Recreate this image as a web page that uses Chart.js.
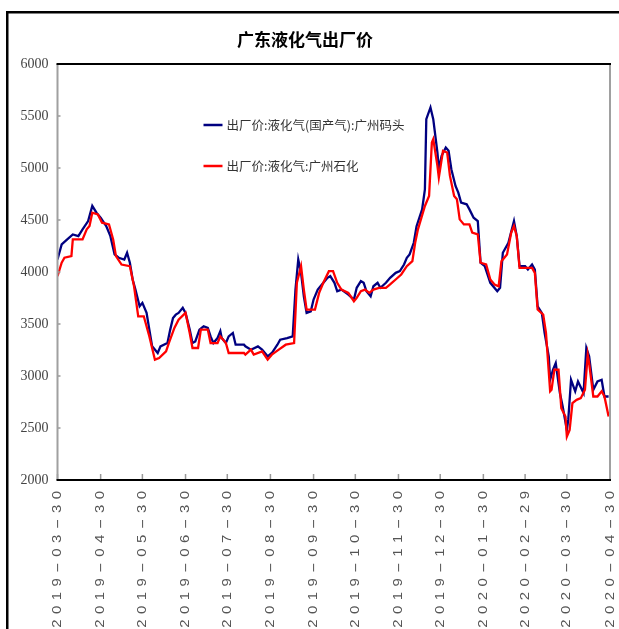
<!DOCTYPE html>
<html>
<head>
<meta charset="utf-8">
<script src="https://cdn.jsdelivr.net/npm/chart.js@4.4.1/dist/chart.umd.min.js"></script>
<style>
  html, body { margin: 0; padding: 0; background: #fff; }
  #wrap { position: relative; width: 619px; height: 629px; }
</style>
</head>
<body>
<div id="wrap"><canvas id="myChart"></canvas></div>
<script>
var chartTitle = "广东液化气出厂价";
var seriesNames = ["出厂价:液化气(国产气):广州码头", "出厂价:液化气:广州石化"];
var seriesColors = ["#000080", "#ff0000"];

var tickDates = ["2019-03-30","2019-04-30","2019-05-30","2019-06-30","2019-07-30","2019-08-30","2019-09-30",
  "2019-10-30","2019-11-30","2019-12-30","2020-01-30","2020-02-29","2020-03-30","2020-04-30"];
var yTicks = [2000, 2500, 3000, 3500, 4000, 4500, 5000, 5500, 6000];

// 广州码头
var blueDates = ["2019-03-30","2019-04-02","2019-04-06","2019-04-10","2019-04-14","2019-04-17","2019-04-21","2019-04-24","2019-04-27","2019-04-30",
  "2019-05-04","2019-05-07","2019-05-10","2019-05-13","2019-05-17","2019-05-19","2019-05-21","2019-05-23","2019-05-25","2019-05-28","2019-05-30",
  "2019-06-02","2019-06-04","2019-06-06","2019-06-10","2019-06-12","2019-06-17","2019-06-19","2019-06-21","2019-06-23","2019-06-25","2019-06-28","2019-06-30",
  "2019-07-03","2019-07-05","2019-07-07","2019-07-10","2019-07-13","2019-07-16","2019-07-18","2019-07-20","2019-07-23","2019-07-25","2019-07-26","2019-07-29","2019-07-31",
  "2019-08-03","2019-08-05","2019-08-11","2019-08-12","2019-08-16","2019-08-21","2019-08-24","2019-08-28","2019-08-31",
  "2019-09-04","2019-09-06","2019-09-11","2019-09-15","2019-09-17","2019-09-19","2019-09-21","2019-09-23","2019-09-25","2019-09-28","2019-09-30",
  "2019-10-03","2019-10-06","2019-10-10","2019-10-12","2019-10-15","2019-10-17","2019-10-20","2019-10-25","2019-10-29","2019-10-31",
  "2019-11-03","2019-11-05","2019-11-07","2019-11-10","2019-11-12","2019-11-15","2019-11-17","2019-11-21","2019-11-24","2019-11-28",
  "2019-12-01","2019-12-04","2019-12-06","2019-12-08","2019-12-11","2019-12-13","2019-12-17","2019-12-19","2019-12-20","2019-12-23","2019-12-25","2019-12-28","2019-12-29","2019-12-31",
  "2020-01-03","2020-01-05","2020-01-07","2020-01-10","2020-01-12","2020-01-14","2020-01-18","2020-01-20","2020-01-23","2020-01-26","2020-01-28","2020-01-31",
  "2020-02-04","2020-02-09","2020-02-11","2020-02-13","2020-02-17","2020-02-21","2020-02-23","2020-02-25","2020-02-29",
  "2020-03-02","2020-03-05","2020-03-07","2020-03-09","2020-03-12","2020-03-14","2020-03-17","2020-03-18","2020-03-20","2020-03-22","2020-03-25","2020-03-27","2020-03-30","2020-03-31",
  "2020-04-02","2020-04-05","2020-04-07","2020-04-11","2020-04-13","2020-04-15","2020-04-18","2020-04-21","2020-04-24","2020-04-26","2020-04-29"];
var blueValues = [4120,4265,4313,4361,4345,4410,4490,4635,4570,4522,
  4442,4345,4169,4137,4120,4185,4089,3928,3831,3670,3703,
  3607,3446,3285,3221,3285,3317,3446,3558,3590,3607,3655,3607,
  3446,3317,3333,3446,3478,3462,3381,3317,3365,3430,3365,3317,3381,
  3414,3301,3301,3285,3253,3285,3253,3189,3221,
  3301,3349,3365,3381,3831,4120,3992,3767,3607,3622,3735,
  3831,3880,3944,3960,3896,3815,3831,3783,3735,3848,
  3912,3896,3815,3767,3863,3896,3848,3896,3944,3992,
  4008,4072,4137,4169,4281,4440,4602,4795,5470,5582,5470,5149,4988,5117,
  5197,5165,4988,4827,4763,4667,4651,4602,4522,4490,4089,4056,
  3896,3815,3848,4185,4281,4490,4345,4056,4056,
  4024,4072,4024,3670,3607,3414,3189,2964,3060,3124,2836,2707,2482,2578,
  2964,2853,2948,2836,3269,3189,2868,2948,2964,2803,2803];

// 广州石化
var redDates = ["2019-03-30","2019-04-02","2019-04-04","2019-04-09","2019-04-10","2019-04-17","2019-04-20","2019-04-22","2019-04-24","2019-04-28",
  "2019-05-01","2019-05-06","2019-05-09","2019-05-11","2019-05-15","2019-05-21","2019-05-24","2019-05-27","2019-05-31",
  "2019-06-04","2019-06-08","2019-06-11","2019-06-16","2019-06-18","2019-06-22","2019-06-25","2019-06-30",
  "2019-07-03","2019-07-05","2019-07-09","2019-07-11","2019-07-16","2019-07-18","2019-07-23","2019-07-25","2019-07-29","2019-07-31",
  "2019-08-11","2019-08-12","2019-08-16","2019-08-18","2019-08-24","2019-08-28","2019-08-31",
  "2019-09-05","2019-09-10","2019-09-16","2019-09-18","2019-09-21","2019-09-23","2019-09-25",
  "2019-10-01","2019-10-04","2019-10-07","2019-10-11","2019-10-14","2019-10-17","2019-10-20","2019-10-25","2019-10-29","2019-10-31",
  "2019-11-03","2019-11-06","2019-11-09","2019-11-12","2019-11-16","2019-11-21","2019-11-24","2019-11-28",
  "2019-12-02","2019-12-06","2019-12-10","2019-12-12","2019-12-14","2019-12-19","2019-12-22","2019-12-24","2019-12-25","2019-12-28","2019-12-29",
  "2020-01-01","2020-01-04","2020-01-06","2020-01-09","2020-01-11","2020-01-13","2020-01-16","2020-01-20","2020-01-22","2020-01-26","2020-01-28",
  "2020-02-01","2020-02-04","2020-02-07","2020-02-10","2020-02-12","2020-02-16","2020-02-19","2020-02-21","2020-02-23","2020-02-25",
  "2020-03-05","2020-03-07","2020-03-09","2020-03-13","2020-03-15","2020-03-18","2020-03-19","2020-03-21","2020-03-24","2020-03-26","2020-03-29","2020-03-30",
  "2020-04-01","2020-04-03","2020-04-06","2020-04-09","2020-04-12","2020-04-14","2020-04-15","2020-04-18","2020-04-21","2020-04-24","2020-04-26","2020-04-29"];
var redValues = [3960,4089,4137,4153,4313,4313,4410,4442,4570,4554,
  4474,4458,4313,4153,4072,4056,3863,3574,3574,
  3381,3157,3173,3237,3317,3462,3542,3607,
  3414,3269,3269,3446,3446,3317,3317,3381,3317,3221,
  3221,3205,3253,3205,3237,3157,3205,
  3253,3301,3317,3896,4056,3831,3639,
  3639,3799,3896,4008,4008,3896,3831,3799,3719,3751,
  3815,3831,3799,3831,3848,3848,3880,3928,
  3976,4056,4104,4281,4410,4635,4731,5245,5277,5020,4908,
  5165,5149,4924,4731,4699,4506,4458,4458,4378,4361,4089,
  4072,3928,3880,3863,4104,4169,4378,4442,4345,4040,
  4040,3992,3639,3590,3414,2853,2868,3060,3060,2691,2610,2418,
  2482,2739,2771,2787,2868,3205,3124,2803,2803,2853,2803,2610];

// days since first tick date
function dayOf(s) {
  var p = s.split("-");
  var t0 = tickDates[0].split("-");
  return (Date.UTC(+p[0], p[1] - 1, +p[2]) - Date.UTC(+t0[0], t0[1] - 1, +t0[2])) / 86400000;
}
function points(dates, values) {
  return dates.map(function (d, i) { return { x: dayOf(d), y: values[i] }; });
}

// frame, axis lines, inner tick marks, rotated date labels, legend
var decorPlugin = {
  id: "decor",
  beforeDraw: function (chart) {
    var ctx = chart.ctx;
    ctx.save();
    ctx.fillStyle = "#fff";
    ctx.fillRect(0, 0, chart.width, chart.height);
    ctx.fillStyle = "#000";
    ctx.fillRect(6, 11, 2.5, chart.height);
    ctx.fillRect(6, 11, chart.width, 2.5);
    ctx.restore();
  },
  afterDraw: function (chart) {
    var ctx = chart.ctx, a = chart.chartArea;
    var xs = chart.scales.x, ys = chart.scales.y;
    ctx.save();
    // inner tick marks
    ctx.strokeStyle = "#999";
    ctx.lineWidth = 1.5;
    xs.ticks.forEach(function (t) {
      var px = xs.getPixelForValue(t.value);
      ctx.beginPath(); ctx.moveTo(px, a.bottom); ctx.lineTo(px, a.bottom - 6); ctx.stroke();
    });
    ys.ticks.forEach(function (t) {
      var py = ys.getPixelForValue(t.value);
      ctx.beginPath(); ctx.moveTo(a.left, py); ctx.lineTo(a.left + 3, py); ctx.stroke();
    });
    // plot borders
    ctx.lineWidth = 2;
    ctx.strokeStyle = "#a0a0a0";
    ctx.beginPath(); ctx.moveTo(a.left, a.top); ctx.lineTo(a.left, a.bottom); ctx.stroke();
    ctx.beginPath(); ctx.moveTo(a.right, a.top); ctx.lineTo(a.right, a.bottom); ctx.stroke();
    ctx.strokeStyle = "#000";
    ctx.beginPath(); ctx.moveTo(a.left - 1, a.top); ctx.lineTo(a.right + 1, a.top); ctx.stroke();
    ctx.beginPath(); ctx.moveTo(a.left - 1, a.bottom); ctx.lineTo(a.right + 1, a.bottom); ctx.stroke();

    // rotated date labels, spaced out like the original
    ctx.fillStyle = "#555";
    ctx.font = "13px 'Liberation Sans'";
    ctx.textBaseline = "middle";
    var spacing = 5.4;
    function stretchOf(ch) { return ch === "-" ? 2.5 : 1.15; }
    xs.ticks.forEach(function (t, i) {
      var label = tickDates[i];
      var px = xs.getPixelForValue(t.value);
      var total = 0;
      for (var k = 0; k < label.length; k++) total += ctx.measureText(label[k]).width * stretchOf(label[k]) + (k ? spacing : 0);
      ctx.save();
      ctx.translate(px, a.bottom + 11);
      ctx.rotate(-Math.PI / 2);
      var cx = -total;
      for (var k = 0; k < label.length; k++) {
        var s = stretchOf(label[k]);
        var w = ctx.measureText(label[k]).width * s;
        ctx.save();
        ctx.translate(cx, 0);
        ctx.scale(s, 1);
        ctx.fillText(label[k], 0, 0);
        ctx.restore();
        cx += w + spacing;
      }
      ctx.restore();
    });

    // legend inside plot
    ctx.font = "12.5px 'Noto Sans CJK SC'";
    ctx.fillStyle = "#333";
    var legendOrder = [0, 1];
    legendOrder.forEach(function (di, row) {
      var ds = chart.data.datasets[di];
      var ly = a.top + 61 + row * 41;
      var lx = a.left + 146;
      ctx.strokeStyle = ds.borderColor;
      ctx.lineWidth = 2.5;
      ctx.beginPath(); ctx.moveTo(lx, ly); ctx.lineTo(lx + 19, ly); ctx.stroke();
      ctx.fillText(ds.label, lx + 23, ly);
    });
    ctx.restore();
  }
};

new Chart("myChart", {
  type: "line",
  data: {
    datasets: [{
      label: seriesNames[0],
      data: points(blueDates, blueValues),
      borderColor: seriesColors[0],
      borderWidth: 2.3,
      pointRadius: 0,
      order: 2
    }, {
      label: seriesNames[1],
      data: points(redDates, redValues),
      borderColor: seriesColors[1],
      borderWidth: 2.3,
      pointRadius: 0,
      order: 1
    }]
  },
  options: {
    responsive: true,
    maintainAspectRatio: false,
    animation: false,
    layout: { autoPadding: false, padding: { left: 0, right: 9, top: 14.6, bottom: 0 } },
    plugins: {
      legend: { display: false },
      tooltip: { enabled: false },
      title: {
        display: true,
        text: chartTitle,
        color: "#000",
        font: { family: "'Noto Sans CJK SC'", size: 17, weight: "bold" },
        padding: { top: 14.4, bottom: 14.6 }
      }
    },
    scales: {
      x: {
        type: "linear",
        min: 0,
        max: dayOf(tickDates[tickDates.length - 1]),
        grid: { display: false, drawTicks: false },
        border: { display: false },
        ticks: { display: false },
        afterBuildTicks: function (scale) {
          scale.ticks = tickDates.map(function (d) { return { value: dayOf(d) }; });
        },
        afterFit: function (scale) { scale.height = 149; }
      },
      y: {
        min: yTicks[0],
        max: yTicks[yTicks.length - 1],
        grid: { display: false, drawTicks: false },
        border: { display: false },
        ticks: {
          stepSize: 500,
          padding: 9,
          color: "#444",
          font: { family: "'Liberation Serif'", size: 14 },
          callback: function (v) { return String(v); }
        },
        afterBuildTicks: function (scale) {
          scale.ticks = yTicks.map(function (v) { return { value: v }; });
        },
        afterFit: function (scale) { scale.width = 57.5; }
      }
    }
  },
  plugins: [decorPlugin]
});
</script>
</body>
</html>
